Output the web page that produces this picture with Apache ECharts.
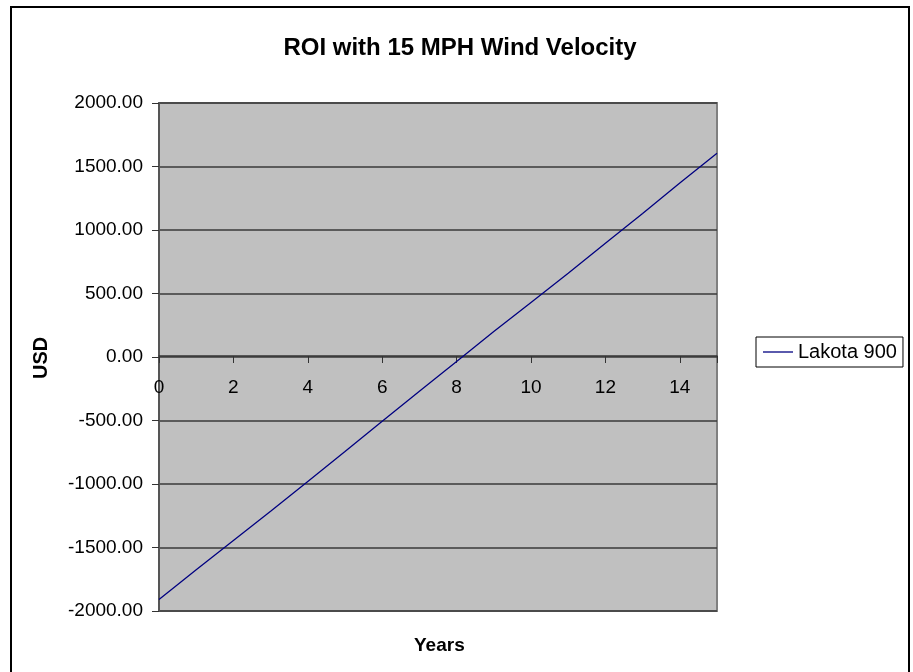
<!DOCTYPE html>
<html>
<head>
<meta charset="utf-8">
<title>ROI with 15 MPH Wind Velocity</title>
<script src="https://cdn.jsdelivr.net/npm/echarts@6/dist/echarts.min.js"></script>
<style>
  html, body { margin: 0; padding: 0; background: #fff; }
  #chart { width: 913px; height: 672px; }
</style>
</head>
<body>
<div id="chart"></div>
<script>
const years = [0, 1, 2, 3, 4, 5, 6, 7, 8, 9, 10, 11, 12, 13, 14, 15]
const lakota900 = [-1910, -1676, -1445, -1215, -980, -745, -505, -270, -35, 200, 430, 660, 895, 1130, 1370, 1605]
const seriesName = 'Lakota 900'

const font = '"Liberation Sans", Arial, sans-serif'

const chart = echarts.init(document.getElementById('chart'))

chart.setOption({
  backgroundColor: '#fff',
  animation: false,
  title: {
    text: 'ROI with 15 MPH Wind Velocity',
    left: 455,
    top: 31,
    textAlign: 'center',
    textStyle: { fontFamily: font, fontSize: 24, fontWeight: 'bold', color: '#000' }
  },
  legend: {
    data: [seriesName],
    left: 756,
    top: 337,
    orient: 'vertical',
    padding: [5, 6, 5, 7],
    itemWidth: 30,
    itemHeight: 1.3,
    itemGap: 0,
    icon: 'rect',
    borderColor: '#000',
    borderWidth: 1,
    textStyle: { fontFamily: font, fontSize: 20, color: '#000' }
  },
  grid: {
    left: 159,
    top: 103,
    width: 558,
    height: 508,
    show: true,
    backgroundColor: '#c0c0c0',
    borderColor: '#808080',
    borderWidth: 2
  },
  xAxis: {
    type: 'value',
    min: 0,
    max: 15,
    interval: 2,
    // x axis sits on the zero line, labels follow it
    offset: -255,
    axisLine: { onZero: false, lineStyle: { color: '#333', width: 1.5 } },
    axisTick: { show: true, length: 7, lineStyle: { color: '#333' } },
    axisLabel: {
      margin: 22,
      fontFamily: font,
      fontSize: 19,
      color: '#000',
      formatter: v => (v % 2 === 0 ? String(v) : '')
    },
    splitLine: { show: false }
  },
  yAxis: {
    type: 'value',
    min: -2000,
    max: 2000,
    interval: 500,
    axisLine: { show: true, lineStyle: { color: '#555', width: 2 } },
    axisTick: { show: true, length: 7, lineStyle: { color: '#333' } },
    axisLabel: {
      margin: 16,
      fontFamily: font,
      fontSize: 19,
      color: '#000',
      formatter: v => v.toFixed(2)
    },
    splitLine: { show: true, lineStyle: { color: '#3a3a3a', width: 1.5 } }
  },
  graphic: [
    {
      type: 'rect',
      shape: { x: 11, y: 7, width: 898, height: 700 },
      style: { fill: 'none', stroke: '#000', lineWidth: 2 },
      silent: true
    },
    {
      type: 'text',
      left: 414,
      top: 636,
      style: { text: 'Years', fontFamily: font, fontSize: 19, fontWeight: 'bold', fill: '#000' }
    },
    {
      type: 'text',
      x: 31,
      y: 379,
      rotation: Math.PI / 2,
      style: { text: 'USD', fontFamily: font, fontSize: 20, fontWeight: 'bold', fill: '#000' }
    }
  ],
  series: [{
    name: seriesName,
    type: 'line',
    data: years.map((y, i) => [y, lakota900[i]]),
    symbol: 'none',
    lineStyle: { color: '#000080', width: 1.3 },
    itemStyle: { color: '#000080' }
  }]
})
</script>
</body>
</html>
